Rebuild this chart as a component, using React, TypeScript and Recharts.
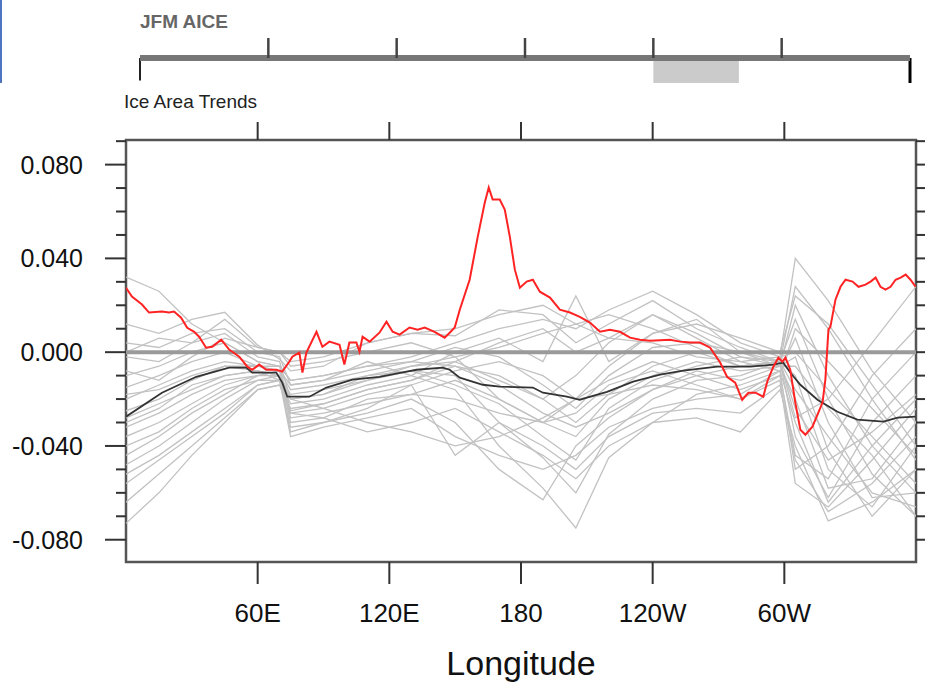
import { Line, LineChart, ReferenceArea, ReferenceLine, XAxis, YAxis } from 'recharts';

const FONT = '"Liberation Sans", Arial, Helvetica, sans-serif';

// axes
const X_TICKS = [60, 120, 180, 240, 300];
const X_TICK_LABELS = ['60E', '120E', '180', '120W', '60W'];
const Y_TICKS = [-0.08, -0.07, -0.06, -0.05, -0.04, -0.03, -0.02, -0.01, 0, 0.01, 0.02, 0.03, 0.04, 0.05, 0.06, 0.07, 0.08, 0.09];
const Y_MAJOR = [-0.08, -0.04, 0, 0.04, 0.08];
const Y_DOMAIN = [-0.0895, 0.0905];

// highlighted longitude band in the small key strip (degrees)
const STRIP_EXTENT = [{ lon: 0, y: 0 }, { lon: 360, y: 0 }];
const HIGHLIGHT_FROM = 240;
const HIGHLIGHT_TO = 280;

// observed trend (red)
const RED_LON = [
  0, 2.7, 7.3, 10.5, 16.4, 19.6, 21.9, 25.1, 27.9, 31.1, 33.3, 36.5, 39.3, 43.4, 47.0, 51.6, 55.3, 57.5, 60.7, 63.9,
  68.5, 71.2, 74.4, 75.8, 79.0, 80.4, 82.2, 86.8, 89.5, 92.7, 97.3, 99.5, 101.8, 105.0, 106.4, 107.8, 111.0, 115.5,
  118.7, 121.5, 124.7, 129.2, 132.9, 136.1, 140.6, 145.2, 147.5, 149.8, 152.1, 156.6, 160.3, 163.5, 165.3, 167.1,
  170.3, 172.6, 174.9, 177.2, 179.5, 182.6, 185.4, 188.6, 193.2, 197.7, 202.3, 206.8, 211.4, 216.0, 220.5, 225.1,
  229.7, 234.2, 238.8, 247.9, 252.5, 257.1, 261.6, 266.2, 270.8, 273.9, 277.6, 280.8, 283.6, 286.8, 290.4, 292.2,
  295.0, 297.3, 299.1, 300.5, 302.7, 305.0, 307.3, 309.6, 312.8, 315.5, 317.4, 318.7, 320.1, 321.0, 323.3, 325.6,
  327.9, 331.1, 333.8, 337.0, 339.3, 341.6, 343.8, 346.1, 348.4, 350.7, 353.0, 355.3, 357.5, 359.8,
];
const RED_VAL = [
  0.0275, 0.0237, 0.0203, 0.0169, 0.0173, 0.0169, 0.0173, 0.0147, 0.0104, 0.0087, 0.0066, 0.0019, 0.0023, 0.0053,
  0.0011, -0.0019, -0.0062, -0.0075, -0.0053, -0.0075, -0.0075, -0.0083, -0.0041, -0.0019, -0.0002, -0.0087, -0.0002,
  0.0087, 0.0023, 0.0045, 0.0032, -0.0053, 0.0041, 0.0041, 0.0002, 0.0066, 0.0045, 0.0083, 0.013, 0.0087, 0.0075,
  0.0105, 0.0096, 0.0105, 0.0087, 0.0062, 0.0083, 0.0105, 0.0181, 0.0309, 0.0493, 0.0638, 0.0702, 0.0651, 0.0651,
  0.0608, 0.0493, 0.0352, 0.0275, 0.0301, 0.0309, 0.0258, 0.0233, 0.0181, 0.0169, 0.0151, 0.0126, 0.0087, 0.0096,
  0.0087, 0.0062, 0.0053, 0.0049, 0.0053, 0.0045, 0.0041, 0.0041, 0.0019, -0.0045, -0.0105, -0.013, -0.0203,
  -0.0173, -0.0173, -0.019, -0.0126, -0.0062, -0.0023, -0.0041, -0.0023, -0.0075, -0.0215, -0.0331, -0.0352,
  -0.0318, -0.0258, -0.0215, -0.0117, 0.0096, 0.0109, 0.0224, 0.0279, 0.0309, 0.0301, 0.0279, 0.0288, 0.0301,
  0.0318, 0.0279, 0.0267, 0.0279, 0.0309, 0.0318, 0.0331, 0.0309, 0.0279,
];

// ensemble mean (black)
const MEAN_LON = [
  0, 16.4, 32.0, 47.0, 54.8, 57.5, 68.5, 71.2, 73.5, 83.6, 91.3, 103.2, 115.5, 127.9, 132.4, 144.3, 147.5, 152.1,
  162.6, 170.3, 185.4, 190.0, 200.9, 206.8, 210.0, 219.2, 231.1, 243.4, 253.9, 269.4, 284.5, 295.0, 299.5, 302.7,
  307.3, 315.1, 324.2, 333.3, 345.2, 351.6, 359.8,
];
const MEAN_VAL = [
  -0.0275, -0.0173, -0.0105, -0.0066, -0.0066, -0.0087, -0.0087, -0.013, -0.019, -0.019, -0.0151, -0.0117, -0.0105,
  -0.0083, -0.0075, -0.0066, -0.0075, -0.0109, -0.0139, -0.0147, -0.0151, -0.0173, -0.019, -0.0203, -0.0194,
  -0.0169, -0.0126, -0.0096, -0.0079, -0.0062, -0.0062, -0.0053, -0.0045, -0.0087, -0.0139, -0.0203, -0.0254,
  -0.0288, -0.0296, -0.0279, -0.0275,
];

// individual ensemble members (gray)
const MEMBER_LON = [0, 15, 30, 45, 60, 70, 75, 90, 110, 130, 150, 170, 190, 205, 220, 240, 260, 280, 298, 305, 320, 340, 360];
const MEMBERS = [
  [0.032, 0.026, 0.012, 0.004, -0.004, -0.006, -0.012, -0.01, -0.006, -0.002, 0.004, 0.01, 0.014, 0.01, 0.018, 0.026, 0.016, 0.004, -0.002, 0.04, 0.022, -0.008, -0.03],
  [0.012, 0.008, 0.014, 0.017, 0.003, -0.003, -0.008, -0.006, 0.004, 0.008, 0.007, 0.018, 0.016, 0.004, 0.012, 0.022, 0.01, 0.002, -0.004, 0.028, 0.01, -0.02, -0.046],
  [0.004, 0.002, 0.008, 0.01, 0, -0.002, -0.014, -0.012, -0.004, -0.01, 0, 0.006, -0.004, 0.024, -0.004, 0.008, 0.014, 0, -0.006, 0.02, -0.01, -0.04, -0.06],
  [-0.002, -0.004, 0.004, 0.008, -0.002, -0.004, -0.02, -0.018, -0.01, -0.006, -0.002, 0.002, 0.008, 0.012, 0.016, 0.01, 0.002, -0.006, -0.004, 0.014, -0.02, -0.052, -0.07],
  [-0.01, -0.006, 0, 0.004, -0.004, -0.006, -0.025, -0.022, -0.016, -0.012, -0.006, -0.01, -0.02, -0.01, 0.004, 0.016, 0.006, -0.004, -0.008, 0.006, -0.03, -0.062, -0.06],
  [-0.015, -0.01, -0.004, 0, -0.006, -0.008, -0.03, -0.028, -0.02, -0.018, -0.012, -0.02, -0.03, -0.036, -0.02, -0.01, -0.004, -0.008, -0.006, -0.002, -0.042, -0.07, -0.05],
  [-0.02, -0.014, -0.008, -0.004, -0.006, -0.008, -0.016, -0.014, -0.01, -0.008, -0.01, -0.03, -0.045, -0.06, -0.035, -0.02, -0.012, -0.01, -0.004, -0.01, -0.05, -0.066, -0.04],
  [-0.025, -0.02, -0.012, -0.006, -0.008, -0.01, -0.034, -0.03, -0.026, -0.02, -0.03, -0.05, -0.063, -0.04, -0.028, -0.016, -0.008, -0.012, -0.006, -0.02, -0.058, -0.054, -0.03],
  [-0.028, -0.022, -0.016, -0.01, -0.008, -0.012, -0.022, -0.02, -0.014, -0.01, -0.016, -0.04, -0.058, -0.075, -0.045, -0.03, -0.018, -0.014, -0.008, -0.03, -0.064, -0.04, -0.02],
  [-0.032, -0.026, -0.018, -0.012, -0.01, -0.01, -0.018, -0.016, -0.012, -0.006, -0.004, -0.012, -0.02, -0.03, -0.018, -0.006, 0, -0.006, -0.004, -0.036, -0.062, -0.03, -0.01],
  [-0.036, -0.03, -0.022, -0.014, -0.01, -0.008, -0.026, -0.024, -0.018, -0.014, -0.008, -0.004, -0.01, -0.02, -0.012, -0.004, -0.01, -0.016, -0.01, -0.044, -0.054, -0.02, 0],
  [-0.04, -0.034, -0.024, -0.016, -0.012, -0.012, -0.036, -0.032, -0.028, -0.024, -0.036, -0.044, -0.05, -0.044, -0.032, -0.024, -0.02, -0.018, -0.008, -0.05, -0.04, -0.01, 0.01],
  [-0.044, -0.036, -0.026, -0.018, -0.01, -0.008, -0.014, -0.012, -0.008, -0.004, 0.002, -0.002, -0.014, -0.024, -0.01, 0.002, 0.004, 0, -0.004, -0.028, -0.02, 0.004, 0.028],
  [-0.048, -0.04, -0.03, -0.02, -0.012, -0.01, -0.028, -0.026, -0.022, -0.018, -0.02, -0.026, -0.03, -0.026, -0.014, -0.008, -0.014, -0.02, -0.012, -0.056, -0.066, -0.046, -0.024],
  [-0.052, -0.044, -0.034, -0.024, -0.014, -0.012, -0.02, -0.018, -0.012, -0.008, -0.014, -0.022, -0.036, -0.046, -0.024, -0.012, -0.006, -0.002, -0.004, -0.016, -0.036, -0.06, -0.066],
  [-0.056, -0.046, -0.036, -0.026, -0.014, -0.012, -0.032, -0.03, -0.024, -0.014, -0.044, -0.03, -0.04, -0.05, -0.036, -0.026, -0.024, -0.026, -0.014, -0.046, -0.068, -0.056, -0.036],
  [-0.064, -0.052, -0.04, -0.028, -0.016, -0.014, -0.024, -0.022, -0.016, -0.012, -0.004, 0.004, 0.01, 0, 0.006, 0.016, 0.008, -0.002, -0.006, -0.006, -0.024, -0.044, -0.07],
  [-0.073, -0.06, -0.044, -0.03, -0.016, -0.014, -0.026, -0.028, -0.034, -0.03, -0.024, -0.034, -0.044, -0.054, -0.04, -0.03, -0.028, -0.034, -0.016, -0.04, -0.072, -0.064, -0.05],
  [-0.008, -0.012, -0.002, 0.006, 0.002, 0, -0.004, -0.002, 0.004, 0.008, 0.01, 0.016, 0.02, 0.012, 0.006, 0.004, -0.002, -0.004, -0.002, 0, -0.016, -0.036, -0.056],
  [0, 0.006, 0.004, 0.014, 0.002, 0, -0.006, -0.004, 0, 0.004, -0.002, -0.02, -0.03, -0.02, -0.006, 0.008, 0.012, 0.006, 0, 0.024, 0.012, -0.014, -0.04],
  [-0.018, -0.016, -0.01, -0.006, -0.006, -0.006, -0.012, -0.01, -0.006, -0.004, -0.006, -0.014, -0.026, -0.032, -0.026, -0.016, -0.01, -0.006, -0.004, -0.024, -0.046, -0.034, -0.018],
  [-0.03, -0.024, -0.014, -0.01, -0.008, -0.01, -0.02, -0.024, -0.03, -0.034, -0.04, -0.036, -0.028, -0.02, -0.018, -0.014, -0.016, -0.02, -0.01, 0.01, -0.004, -0.024, -0.044],
];
const ZERO_LINE = [{ lon: 0, v: 0 }, { lon: 360, v: 0 }];

const PLOT_W = 790;
const PLOT_H = 422;

const toPoints = (lons: number[], vals: number[]) => lons.map((lon, i) => ({ lon, v: vals[i] }));
const redData = toPoints(RED_LON, RED_VAL);
const meanData = toPoints(MEAN_LON, MEAN_VAL);
const memberData = MEMBERS.map((m) => toPoints(MEMBER_LON, m));

function YTick({ x, y, payload }: any) {
  const v = payload.value;
  const major = Y_MAJOR.some((m) => Math.abs(m - v) < 1e-6);
  return (
    <g>
      <line x1={x - (major ? 21 : 10)} x2={x} y1={y} y2={y} stroke="#333" strokeWidth={2} />
      <line x1={x + PLOT_W} x2={x + PLOT_W + (major ? 16 : 10)} y1={y} y2={y} stroke="#333" strokeWidth={2} />
      {major && (
        <text x={x - 43} y={y} dy="0.36em" textAnchor="end" fontSize={25} fill="#111" fontFamily={FONT}>
          {v.toFixed(3)}
        </text>
      )}
    </g>
  );
}

function XTick({ x, y, payload }: any) {
  const label = X_TICK_LABELS[X_TICKS.indexOf(payload.value)];
  return (
    <g>
      <line x1={x} x2={x} y1={y} y2={y + 22} stroke="#333" strokeWidth={2} />
      <line x1={x} x2={x} y1={y - PLOT_H} y2={y - PLOT_H - 18} stroke="#333" strokeWidth={2} />
      <text x={x} y={y + 60} textAnchor="middle" fontSize={26} fill="#111" fontFamily={FONT}>
        {label}
      </text>
    </g>
  );
}

function StripTick({ x, y }: any) {
  return <line x1={x} x2={x} y1={y} y2={y - 20} stroke="#444" strokeWidth={2.5} />;
}

export default function App() {
  return (
    <div style={{ position: 'relative', width: 917, height: 676, fontFamily: FONT }}>
      <div style={{ position: 'fixed', left: 0, top: 0, width: 2, height: 83, background: '#4f74c0' }} />
      <div style={{ position: 'absolute', left: 132, top: 4, fontSize: 19, lineHeight: '19px', fontWeight: 'bold', color: '#666' }}>
        JFM AICE
      </div>
      <div style={{ position: 'absolute', left: 116, top: 84, fontSize: 19, lineHeight: '19px', color: '#222' }}>
        Ice Area Trends
      </div>

      <div style={{ position: 'absolute', left: 0, top: 0 }}>
        <LineChart width={917} height={100} data={STRIP_EXTENT} margin={{ top: 30, right: 15, bottom: 25, left: 132 }}>
          <XAxis
            dataKey="lon"
            type="number"
            domain={[0, 360]}
            ticks={X_TICKS}
            orientation="top"
            height={20}
            tickSize={0}
            tickMargin={0}
            tickLine={false}
            tick={<StripTick />}
            axisLine={{ stroke: '#777', strokeWidth: 6 }}
          />
          <YAxis hide width={0} type="number" domain={[0, 1]} />
          <Line dataKey="y" stroke="none" dot={false} isAnimationActive={false} />
          <ReferenceArea x1={HIGHLIGHT_FROM} x2={HIGHLIGHT_TO} y1={0} y2={1} fill="#cbcbcb" fillOpacity={1} stroke="none" />
          <ReferenceLine segment={[{ x: 0, y: 0.1 }, { x: 0, y: 1 }]} stroke="#222" strokeWidth={2} />
          <ReferenceLine segment={[{ x: 360, y: 0 }, { x: 360, y: 1 }]} stroke="#000" strokeWidth={3} />
        </LineChart>
      </div>

      <div style={{ position: 'absolute', left: 0, top: 100 }}>
        <LineChart width={917} height={576} margin={{ top: 32, right: 9, bottom: 0, left: 0 }}>
          <XAxis
            dataKey="lon"
            type="number"
            domain={[0, 360]}
            ticks={X_TICKS}
            allowDataOverflow
            height={122}
            tickSize={0}
            tickMargin={0}
            tickLine={false}
            axisLine={false}
            tick={<XTick />}
            label={{ value: 'Longitude', position: 'insideBottom', offset: 9, fontSize: 34, fill: '#111', fontFamily: FONT }}
          />
          <YAxis
            type="number"
            domain={Y_DOMAIN}
            ticks={Y_TICKS}
            allowDataOverflow
            width={118}
            tickSize={0}
            tickMargin={0}
            tickLine={false}
            axisLine={false}
            tick={<YTick />}
          />
          {memberData.map((d, i) => (
            <Line
              key={i}
              data={d}
              dataKey="v"
              type="linear"
              stroke="#c2c2c2"
              strokeWidth={1.3}
              dot={false}
              isAnimationActive={false}
            />
          ))}
          <Line data={ZERO_LINE} dataKey="v" stroke="#9a9a9a" strokeWidth={4} dot={false} isAnimationActive={false} />
          <Line data={meanData} dataKey="v" type="linear" stroke="#333" strokeWidth={1.8} dot={false} isAnimationActive={false} />
          <Line data={redData} dataKey="v" type="linear" stroke="#ff2323" strokeWidth={2} dot={false} isAnimationActive={false} />
          <ReferenceArea x1={0} x2={360} y1={Y_DOMAIN[0]} y2={Y_DOMAIN[1]} fill="none" stroke="#555" strokeWidth={2.5} />
        </LineChart>
      </div>
    </div>
  );
}
